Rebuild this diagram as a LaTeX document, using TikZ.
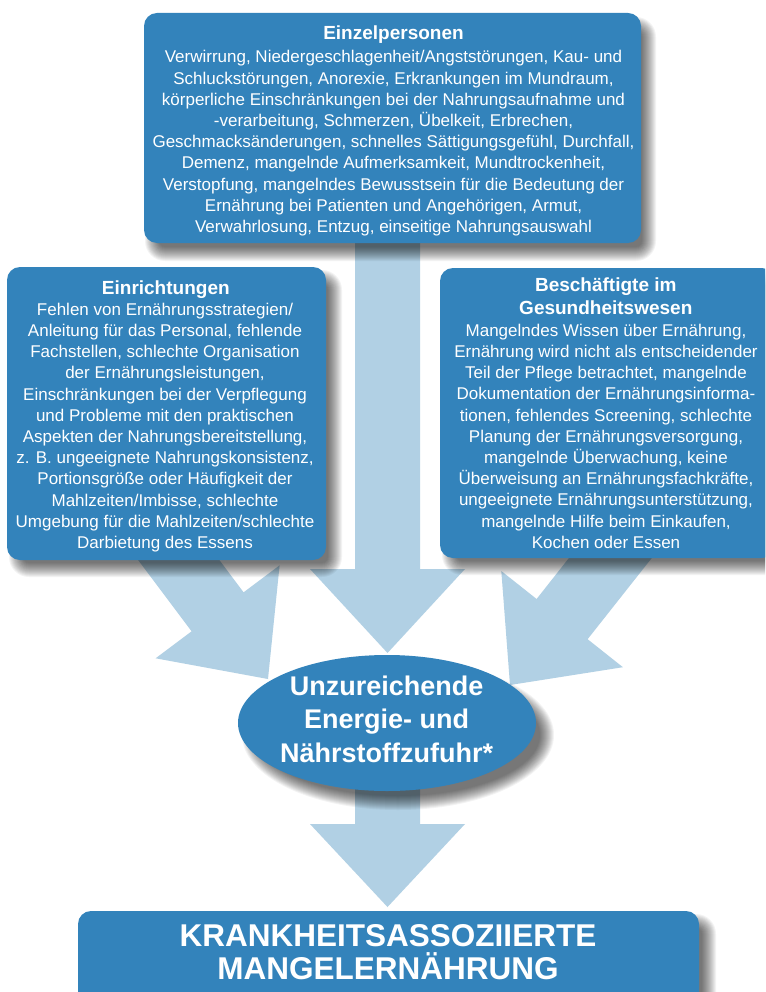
\documentclass[tikz,border=0pt]{standalone}
\usepackage{fontspec}
\setmainfont{Liberation Sans}
\usetikzlibrary{shapes.geometric}
\definecolor{boxblue}{HTML}{3383BB}
\definecolor{arrowblue}{HTML}{B1D0E4}
\newcommand\mkboxshadow[6]{%
  \foreach \e in {-7,-6,...,7}{%
    \pgfmathsetmacro\rr{max(1,13+\e)}%
    \fill[black,opacity=0.047,rounded corners=\rr pt]
      ({#1+#5-(\e)},{#2+#6-(\e)}) rectangle ({#3+#5+(\e)},{#4+#6+(\e)});
  }}
\newcommand\bodytext[2]{\parbox[t]{#1}{\centering\fontsize{17pt}{21.2pt}\selectfont #2}}
\begin{document}
\begin{tikzpicture}[x=1pt,y=-1pt,
  boxnode/.style={rectangle, rounded corners=13pt, fill=boxblue, draw=none, inner sep=0pt},
  ellnode/.style={ellipse, fill=boxblue, draw=none, inner sep=0pt},
  txt/.style={anchor=base, inner sep=0pt, text=white},
  bigarrow/.style={fill=arrowblue, draw=none}]
\useasboundingbox (0,0) rectangle (765,992);
\clip (0,0) rectangle (765,992);
\fill[white] (0,0) rectangle (765,992);

% ---- block arrows ----
\fill[bigarrow] (355,230) -- (420,230) -- (420,569) -- (465,569) -- (387.5,653) -- (310,569) -- (355,569) -- cycle;
\fill[bigarrow] (171.6,496.3) -- (119.6,535.3) -- (191.6,631.3) -- (155.6,658.3) -- (268,679) -- (279.6,565.3) -- (243.6,592.3) -- cycle;
\fill[bigarrow] (617.2,496.8) -- (536.6,599.0) -- (501.3,571.0) -- (510,685) -- (622.9,667.2) -- (587.6,639.2) -- (668.2,537.2) -- cycle;
\fill[bigarrow] (355,770) -- (420,770) -- (420,824) -- (465,824) -- (387.5,907) -- (310,824) -- (355,824) -- cycle;

% ---- shadows ----
\mkboxshadow{144}{13}{641}{243}{8}{11}
\mkboxshadow{7}{267}{326}{560}{9}{10}
\mkboxshadow{440}{268}{775}{558}{9}{10}
\mkboxshadow{78}{911}{699}{1010}{10}{10}
\foreach \e in {-7,-6,...,7}{%
  \fill[black,opacity=0.047] (398,735) ellipse [x radius={149+(\e)}, y radius={68+(\e)}];
}

% ---- shapes ----
\node[boxnode, minimum width=497pt, minimum height=230pt] (topbox) at (392.5,128) {};
\node[boxnode, minimum width=319pt, minimum height=293pt] (leftbox) at (166.5,413.5) {};
\node[boxnode, minimum width=335pt, minimum height=290pt] (rightbox) at (607.5,413) {};
\node[ellnode, minimum width=298pt, minimum height=136pt] (mid) at (387,723) {};
\node[boxnode, minimum width=621pt, minimum height=99pt] (result) at (388.5,960.5) {};

% ---- texts ----
\node[txt] (toptitle) at (393.5,40) {\fontsize{19pt}{22pt}\selectfont\bfseries Einzelpersonen};
\node[txt] (topbody) at (393.5,63) {\bodytext{520pt}{Verwirrung, Niedergeschlagenheit/Angststörungen, Kau- und\\
Schluckstörungen, Anorexie, Erkrankungen im Mundraum,\\
körperliche Einschränkungen bei der Nahrungsaufnahme und\\
-verarbeitung, Schmerzen, Übelkeit, Erbrechen,\\
Geschmacksänderungen, schnelles Sättigungsgefühl, Durchfall,\\
Demenz, mangelnde Aufmerksamkeit, Mundtrockenheit,\\
Verstopfung, mangelndes Bewusstsein für die Bedeutung der\\
Ernährung bei Patienten und Angehörigen, Armut,\\
Verwahrlosung, Entzug, einseitige Nahrungsauswahl}};

\node[txt] (lefttitle) at (165.8,294.5) {\fontsize{19pt}{22pt}\selectfont\bfseries Einrichtungen};
\node[txt] (leftbody) at (165,315.2) {\bodytext{400pt}{Fehlen von Ernährungsstrategien/\\
Anleitung für das Personal, fehlende\\
Fachstellen, schlechte Organisation\\
der Ernährungsleistungen,\\
Einschränkungen bei der Verpflegung\\
und Probleme mit den praktischen\\
Aspekten der Nahrungsbereitstellung,\\
z. B. ungeeignete Nahrungskonsistenz,\\
Portionsgröße oder Häufigkeit der\\
Mahlzeiten/Imbisse, schlechte\\
Umgebung für die Mahlzeiten/schlechte\\
Darbietung des Essens}};

\node[txt] (righttitle) at (605.8,291.8) {\parbox[t]{400pt}{\centering\fontsize{19pt}{22.5pt}\selectfont\bfseries Beschäftigte im\\ Gesundheitswesen}};
\node[txt] (rightbody) at (606,336.2) {\bodytext{400pt}{Mangelndes Wissen über Ernährung,\\
Ernährung wird nicht als entscheidender\\
Teil der Pflege betrachtet, mangelnde\\
Dokumentation der Ernährungsinforma-\\
tionen, fehlendes Screening, schlechte\\
Planung der Ernährungsversorgung,\\
mangelnde Überwachung, keine\\
Überweisung an Ernährungsfachkräfte,\\
ungeeignete Ernährungsunterstützung,\\
mangelnde Hilfe beim Einkaufen,\\
Kochen oder Essen}};

\node[txt] (midtext) at (386.7,695) {\parbox[t]{400pt}{\centering\fontsize{27pt}{33.5pt}\selectfont\bfseries Unzureichende\\ Energie- und\\ Nährstoffzufuhr*}};

\node[txt] (resulttext) at (388,946.7) {\parbox[t]{640pt}{\centering\fontsize{31.5pt}{32.5pt}\selectfont\bfseries KRANKHEITSASSOZIIERTE\\ MANGELERNÄHRUNG}};
\end{tikzpicture}
\end{document}
